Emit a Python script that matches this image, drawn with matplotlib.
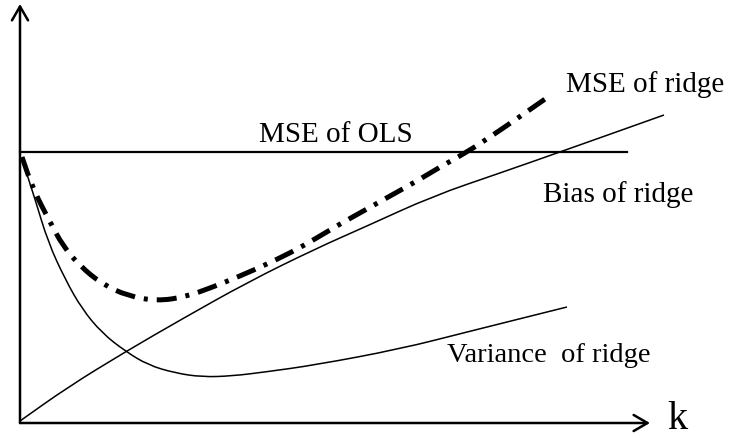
#!/usr/bin/env python3

import matplotlib
matplotlib.use("Agg")
import matplotlib.pyplot as plt
from matplotlib.path import Path
from matplotlib.patches import PathPatch

# values (k on x, value on y, origin at the axes corner)
k_bias   = [0, 48, 105, 162, 228, 295, 347, 413, 480, 540, 644]
bias     = [2, 36, 71, 104, 141, 174, 197, 227, 250, 271, 308]

k_var    = [2, 15, 28, 45, 62, 82, 105, 128, 155, 182, 212, 245, 295, 380, 447, 547]
variance = [264, 224, 181, 144, 114, 90, 72, 58, 50, 46, 47, 51, 58, 74, 91, 116]

k_mse    = [2, 13, 30, 43, 60, 82, 108, 137, 165, 193, 220, 245, 272, 295,
            320, 347, 370, 397, 420, 447, 470, 495, 528]
mse      = [266, 234, 201, 177, 157, 139, 127, 122, 126, 136, 147, 158, 171, 184,
            199, 214, 227, 242, 256, 271, 286, 303, 326]

k_ols    = [0, 607]
mse_ols  = [271, 271]

k_max = 630
y_max = 419


def smoothCurve(xs, ys, **kw):
    # quadratic bezier through the midpoints, read points as control points
    pts = list(zip(xs, ys))
    verts = [pts[0]]
    codes = [Path.MOVETO]
    mid = ((pts[0][0] + pts[1][0]) / 2, (pts[0][1] + pts[1][1]) / 2)
    verts.append(mid)
    codes.append(Path.LINETO)
    for n in range(1, len(pts) - 1):
        nxt = ((pts[n][0] + pts[n+1][0]) / 2, (pts[n][1] + pts[n+1][1]) / 2)
        verts += [pts[n], nxt]
        codes += [Path.CURVE3, Path.CURVE3]
    verts.append(pts[-1])
    codes.append(Path.LINETO)
    return PathPatch(Path(verts, codes), fill=False, **kw)


plt.rcParams['font.family'] = ['Liberation Serif', 'DejaVu Serif']

fig = plt.figure(figsize=(7.29, 4.39), dpi=100)
ax = fig.add_axes([0, 0, 1, 1])
ax.set_xlim(-20, 709)
ax.set_ylim(-15, 424)
ax.axis("off")

# axes with open arrow heads
arrow = dict(arrowstyle="->,head_length=0.5,head_width=0.29",
             lw=1.8, color="black", mutation_scale=20, shrinkA=0, shrinkB=0)
ax.annotate("", xy=(k_max, 0), xytext=(0, 0), arrowprops=arrow)
ax.annotate("", xy=(0, y_max), xytext=(0, 0), arrowprops=arrow)

ax.plot(k_ols, mse_ols, color="black", lw=1.6)
ax.add_patch(smoothCurve(k_bias, bias, edgecolor="black", lw=1.1))
ax.add_patch(smoothCurve(k_var, variance, edgecolor="black", lw=1.1))
mseLine = smoothCurve(k_mse, mse, edgecolor="black", lw=3.6,
                      linestyle=(0, (4, 1.8, 0.8, 1.8)))
mseLine.set_capstyle("butt")
ax.add_patch(mseLine)

ax.text(316, 282, "MSE of OLS", fontsize=21, ha="center", va="baseline")
ax.text(546, 332, "MSE of ridge", fontsize=21, ha="left", va="baseline")
ax.text(523, 222, "Bias of ridge", fontsize=21, ha="left", va="baseline")
ax.text(427, 62, "Variance  of ridge", fontsize=20.5, ha="left", va="baseline")
ax.text(647, -14, "k", fontsize=29, ha="left", va="bottom")

fig.savefig("out.png", dpi=100)
